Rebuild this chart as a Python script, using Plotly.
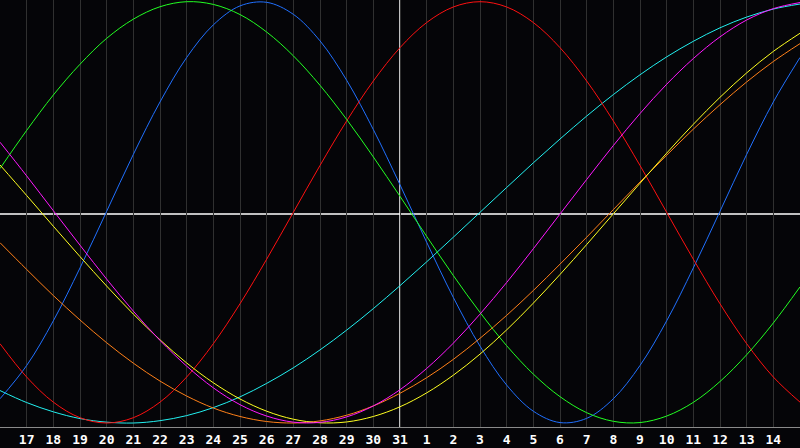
import plotly.graph_objects as go

# day index 0..30  -> day labels 16..31, 1..15
day_labels = [str(d) for d in range(16, 32)] + [str(d) for d in range(1, 16)]
days = list(range(len(day_labels)))

blue = [-0.885, -0.727, -0.515, -0.264, 0.005, 0.275, 0.524, 0.735, 0.890, 0.980, 0.997,
        0.940, 0.814, 0.627, 0.393, 0.131, -0.142, -0.404, -0.635, -0.820, -0.944,
        -0.998, -0.978, -0.885, -0.727, -0.515, -0.264, 0.005, 0.275, 0.524, 0.735]
red = [-0.6235, -0.7818, -0.9010, -0.9749, -1.0, -0.9749, -0.9010, -0.7818, -0.6235, -0.4339,
       -0.2225, 0.0, 0.2225, 0.4339, 0.6235, 0.7818, 0.9010, 0.9749, 1.0, 0.9749, 0.9010,
       0.7818, 0.6235, 0.4339, 0.2225, 0.0, -0.2225, -0.4339, -0.6235, -0.7818, -0.9010]
green = [0.208, 0.389, 0.557, 0.703, 0.826, 0.917, 0.976, 1.000, 0.987, 0.939, 0.856,
         0.743, 0.603, 0.441, 0.263, 0.076, -0.114, -0.300, -0.475, -0.633, -0.768,
         -0.875, -0.951, -0.992, -0.998, -0.967, -0.902, -0.803, -0.676, -0.525, -0.354]
cyan = [-0.846, -0.903, -0.947, -0.979, -0.996, -1.000, -0.989, -0.965, -0.927, -0.876,
        -0.812, -0.738, -0.653, -0.559, -0.457, -0.348, -0.235, -0.118, 0.0, 0.118, 0.235,
        0.348, 0.457, 0.559, 0.653, 0.738, 0.812, 0.876, 0.927, 0.965, 0.989]
magenta = [0.333, 0.173, 0.008, -0.156, -0.317, -0.469, -0.608, -0.730, -0.833, -0.913,
           -0.967, -0.996, -0.997, -0.971, -0.919, -0.842, -0.741, -0.621, -0.483, -0.333,
           -0.173, -0.008, 0.156, 0.317, 0.469, 0.608, 0.730, 0.833, 0.913, 0.967, 0.996]
yellow = [0.225, 0.080, -0.066, -0.210, -0.350, -0.483, -0.605, -0.715, -0.809, -0.886,
          -0.944, -0.982, -0.999, -0.995, -0.969, -0.923, -0.857, -0.773, -0.673, -0.558,
          -0.431, -0.295, -0.153, -0.007, 0.138, 0.281, 0.418, 0.546, 0.662, 0.764, 0.850]
orange = [-0.144, -0.271, -0.395, -0.511, -0.619, -0.716, -0.801, -0.872, -0.929, -0.969,
          -0.993, -1.000, -0.990, -0.963, -0.919, -0.859, -0.785, -0.698, -0.598, -0.489,
          -0.371, -0.246, -0.118, 0.013, 0.144, 0.271, 0.395, 0.511, 0.619, 0.716, 0.801]

series = [
    ("cyan", cyan, "#22f0f0"),
    ("blue", blue, "#2070ff"),
    ("red", red, "#ff1010"),
    ("green", green, "#22ff22"),
    ("orange", orange, "#ff8018"),
    ("yellow", yellow, "#ffff20"),
    ("magenta", magenta, "#ff18ff"),
]

today_index = 15  # day 31

fig = go.Figure()
for name, vals, col in series:
    fig.add_trace(go.Scatter(x=days, y=vals, mode="lines", name=name,
                             line=dict(color=col, width=1, shape="spline", smoothing=1.0),
                             hoverinfo="skip"))

fig.add_shape(type="line", xref="x", yref="paper", x0=today_index, x1=today_index, y0=0, y1=1,
              line=dict(color="white", width=1.5), layer="below")
fig.add_shape(type="line", xref="paper", yref="y", x0=0, x1=1, y0=-0.008, y1=-0.008,
              line=dict(color="white", width=1.5), layer="below")

fig.update_layout(
    width=800, height=448,
    margin=dict(l=0, r=0, t=0, b=21),
    paper_bgcolor="#050508", plot_bgcolor="#050508",
    showlegend=False,
    xaxis=dict(range=[0, 30], tickmode="array", tickvals=days[1:-1], ticktext=day_labels[1:-1],
               showgrid=True, gridcolor="#303030", gridwidth=1, zeroline=False,
               showline=True, linecolor="#8a8a8a", linewidth=1, mirror=True,
               ticks="", tickfont=dict(family="DejaVu Sans Mono", size=13, color="white", weight="bold")),
    yaxis=dict(range=[-1.019, 1.008], showgrid=False, zeroline=False, showticklabels=False,
               showline=True, linecolor="#8a8a8a", linewidth=2, ticks=""),
)

fig.write_html("out.html", config={"displayModeBar": False},
               post_script="document.body.style.margin='0';document.body.style.background='#050508';")
